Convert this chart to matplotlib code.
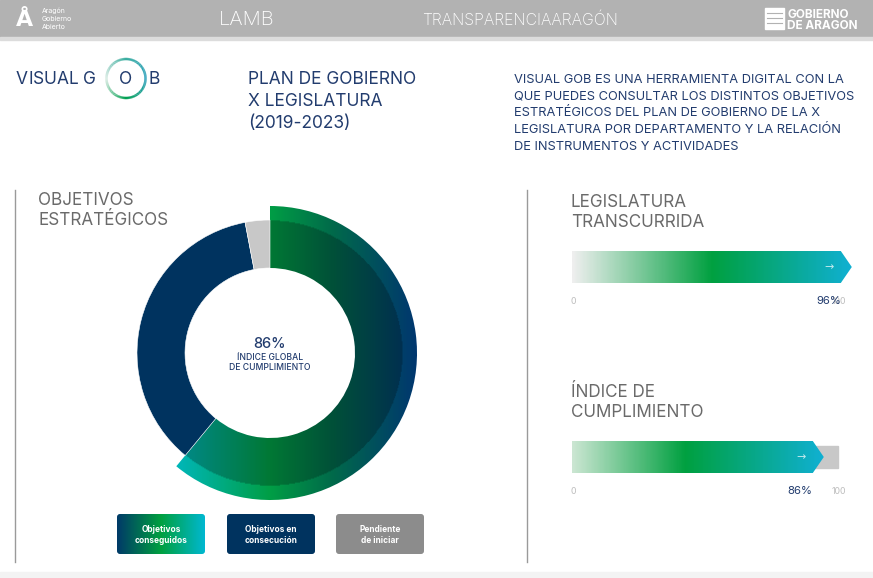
import matplotlib
matplotlib.use('Agg')
import matplotlib.pyplot as plt
import numpy as np
from matplotlib.patches import Wedge, Rectangle, Polygon, FancyBboxPatch
from matplotlib.colors import LinearSegmentedColormap
from matplotlib.collections import LineCollection

plt.rcParams['font.family'] = ['Inter', 'DejaVu Sans']

# data
donut_labels = ['Objetivos\nconseguidos', 'Objetivos en\nconsecución', 'Pendiente\nde iniciar']
donut_values = [61, 36, 3]
indice_global = 86
bar_titles = [['LEGISLATURA', 'TRANSCURRIDA'], ['ÍNDICE DE', 'CUMPLIMIENTO']]
bar_values = [96, 86]
bar_axis = ['0', '100']
title_lines = ['PLAN DE GOBIERNO', 'X LEGISLATURA', '(2019-2023)']
desc_lines = ['VISUAL GOB ES UNA HERRAMIENTA DIGITAL CON LA',
              'QUE PUEDES CONSULTAR LOS DISTINTOS OBJETIVOS',
              'ESTRATÉGICOS DEL PLAN DE GOBIERNO DE LA X',
              'LEGISLATURA POR DEPARTAMENTO Y LA RELACIÓN',
              'DE INSTRUMENTOS Y ACTIVIDADES']

NAVY = '#223c6e'
GREY_T = '#6a6a6a'

fig = plt.figure(figsize=(8.73, 5.78), dpi=100)
ax = fig.add_axes([0, 0, 1, 1])
ax.set_xlim(0, 873)
ax.set_ylim(578, 0)
ax.axis('off')
renderer = fig.canvas.get_renderer()


def cmap_of(stops):
    return LinearSegmentedColormap.from_list('g', stops)


def grad_fill(x0, x1, y0, y1, cmap, clip, fx=None):
    xs = np.linspace(x0, x1, 300)
    ys = np.linspace(y0, y1, 300)
    X, Y = np.meshgrid(xs, ys)
    rgb = cmap((X - x0) / (x1 - x0))[..., :3]
    if fx is not None:
        rgb = fx(X, Y, rgb)
    im = ax.imshow(rgb, extent=(x0, x1, y1, y0), origin='upper', aspect='auto',
                   interpolation='bilinear', zorder=3)
    clip.set_transform(ax.transData)
    im.set_clip_path(clip)
    ax.set_xlim(0, 873)
    ax.set_ylim(578, 0)
    return im


def tracked(x, y, s, track, **kw):
    # letter-spaced text, one glyph at a time
    for ch in s:
        t = ax.text(x, y, ch, va='baseline', **kw)
        w = t.get_window_extent(renderer).width
        if ch == ' ':
            w = kw.get('fontsize', 10) * 0.4
        x += w + track
    return x


# header
ax.add_patch(Rectangle((0, 0), 873, 37, color='#b2b2b2', zorder=1))
ax.add_patch(Rectangle((0, 37), 873, 3, color='#dcdcdc', zorder=1))
ax.text(24, 20, 'Å', color='white', fontsize=16, fontweight='bold', ha='center', va='center', family='DejaVu Sans')
for i, s in enumerate(['Aragón', 'Gobierno', 'Abierto']):
    ax.text(42, 13 + 8 * i, s, color='white', fontsize=5, va='baseline')
ax.text(247, 25, 'LAMB', color='white', fontsize=14.5, ha='center', va='baseline', fontweight='light')
ax.text(520, 25, 'TRANSPARENCIAARAGÓN', color='white', fontsize=11.4, ha='center', va='baseline', fontweight='light')
ax.add_patch(Rectangle((765, 8), 19, 21, color='white', zorder=2))
for yy in (13, 18, 23):
    ax.plot([767, 782], [yy, yy], color='#b2b2b2', lw=0.8, zorder=3)
ax.text(787, 18, 'GOBIERNO', color='white', fontsize=8.5, fontweight='bold', va='baseline')
ax.text(787, 29, 'DE ARAGON', color='white', fontsize=8.5, fontweight='bold', va='baseline')

# logo VISUAL GOB
tracked(16, 84, 'VISUAL G', 0, color=NAVY, fontsize=12.5)
ax.text(126, 84, 'O', color=NAVY, fontsize=12.5, va='baseline', ha='center')
ax.text(149, 84, 'B', color=NAVY, fontsize=12.5, va='baseline')
ring_cmap = cmap_of(['#1596b4', '#00a050', '#d5e9df', '#3aaea0', '#1596b4'])
th = np.linspace(0, 2 * np.pi, 121)
px = 126 + 19.5 * np.cos(th)
py = 78.5 + 19.5 * np.sin(th)
segs = [[(px[i], py[i]), (px[i + 1], py[i + 1])] for i in range(len(th) - 1)]
ax.add_collection(LineCollection(segs, colors=ring_cmap(np.linspace(0, 1, len(segs))), lw=1.8, zorder=4))

for i, s in enumerate(title_lines):
    ax.text(248, 84 + 22 * i, s, color=NAVY, fontsize=12.5, va='baseline')
for i, s in enumerate(desc_lines):
    ax.text(514, 83 + 16.7 * i, s, color=NAVY, fontsize=9.25, va='baseline')

# separators
ax.plot([15, 15], [190, 562], color='#9a9a9a', lw=1)
ax.plot([527, 527], [190, 562], color='#9a9a9a', lw=1)

# section titles
for (x, y, s) in [(38, 205, 'OBJETIVOS'), (38, 225, 'ESTRATÉGICOS'),
                  (571, 207, bar_titles[0][0]), (571, 227, bar_titles[0][1]),
                  (571, 397, bar_titles[1][0]), (571, 417, bar_titles[1][1])]:
    ax.text(x, y, s, color=GREY_T, fontsize=12.3, va='baseline')

# donut
cx, cy = 270, 353
r_in, r_out, r_hi = 85, 133, 147
fracs = np.array(donut_values) / sum(donut_values)
bounds = -90 + 360 * np.concatenate([[0], np.cumsum(fracs)])
green_cmap = cmap_of([(0, '#00b8c0'), (0.4, '#009e45'), (0.65, '#006a4a'), (1, '#003570')])


def shade(X, Y, rgb):
    R = np.hypot(X - cx, Y - cy)
    f = np.where(R < r_out, 0.76, 1.0)
    return rgb * f[..., None]


grad_fill(170, 420, 200, 505, green_cmap,
          Wedge((cx, cy), r_hi, bounds[0], bounds[1], width=r_hi - r_in), fx=shade)
ax.add_patch(Wedge((cx, cy), r_out, bounds[1], bounds[2], width=r_out - r_in,
                   facecolor='#00335f', edgecolor='white', lw=0.4, zorder=4))
ax.add_patch(Wedge((cx, cy), r_out, bounds[2], bounds[3], width=r_out - r_in,
                   facecolor='#c8c8c8', edgecolor='white', lw=0.4, zorder=4))

ax.text(cx, 348, f'{indice_global}%', color=NAVY, fontsize=10.5, ha='center', va='baseline', fontweight='medium')
ax.text(cx, 360, 'ÍNDICE GLOBAL', color=NAVY, fontsize=6.2, ha='center', va='baseline', fontweight='medium')
ax.text(cx, 370.5, 'DE CUMPLIMIENTO', color=NAVY, fontsize=6.2, ha='center', va='baseline', fontweight='medium')

# legend buttons
btn_x = [117, 227, 336]
btn_fc = [None, '#00335f', '#8c8c8c']
for i, lab in enumerate(donut_labels):
    box = FancyBboxPatch((btn_x[i], 514), 88, 40, boxstyle='round,pad=0,rounding_size=3',
                         facecolor=btn_fc[i] or 'none', edgecolor='none', zorder=3)
    if btn_fc[i] is None:
        grad_fill(btn_x[i], btn_x[i] + 88, 514, 554,
                  cmap_of([(0, '#003a68'), (0.5, '#00a040'), (1, '#00b8d0')]), box)
    else:
        ax.add_patch(box)
    ax.text(btn_x[i] + 44, 535, lab, color='white', fontsize=6, fontweight='bold',
            ha='center', va='center', linespacing=1.3, zorder=5)

# progress bars
bx0, bfull, tip = 572, 280, 11
track_end = 838
bar_top = [251, 441]
bar_h = 32
bar_stops = [[(0, '#efefef'), (0.5, '#00a040'), (1, '#10b0d2')],
             [(0, '#cbe6d2'), (0.45, '#00a040'), (1, '#10b0d2')]]
label_y = [304, 494]
for i, v in enumerate(bar_values):
    t = bar_top[i]
    xe = bx0 + v / 100 * bfull
    ax.add_patch(Rectangle((xe, t + 5), track_end - xe, bar_h - 10, color='#c8c8c8', zorder=2))
    poly = Polygon([(bx0, t), (xe, t), (xe + tip, t + bar_h / 2), (xe, t + bar_h), (bx0, t + bar_h)])
    grad_fill(bx0, xe + tip, t, t + bar_h, cmap_of(bar_stops[i]), poly)
    ax.text(xe - 12, t + bar_h / 2, '→', color='white', alpha=0.75, fontsize=8,
            ha='center', va='center', family='DejaVu Sans', zorder=5)
    ax.text(bx0 + 1, label_y[i], bar_axis[0], color='#bdbdbd', fontsize=6.3, ha='center', va='baseline')
    ax.text(track_end + 1, label_y[i], bar_axis[1], color='#bdbdbd', fontsize=6.3, ha='center', va='baseline')
    ax.text(xe, label_y[i], f'{v}%', color=NAVY, fontsize=8.2, ha='right', va='baseline', zorder=5)

ax.add_patch(Rectangle((0, 572), 873, 6, color='#f3f3f3', zorder=1))

fig.savefig('out.png', dpi=100)
